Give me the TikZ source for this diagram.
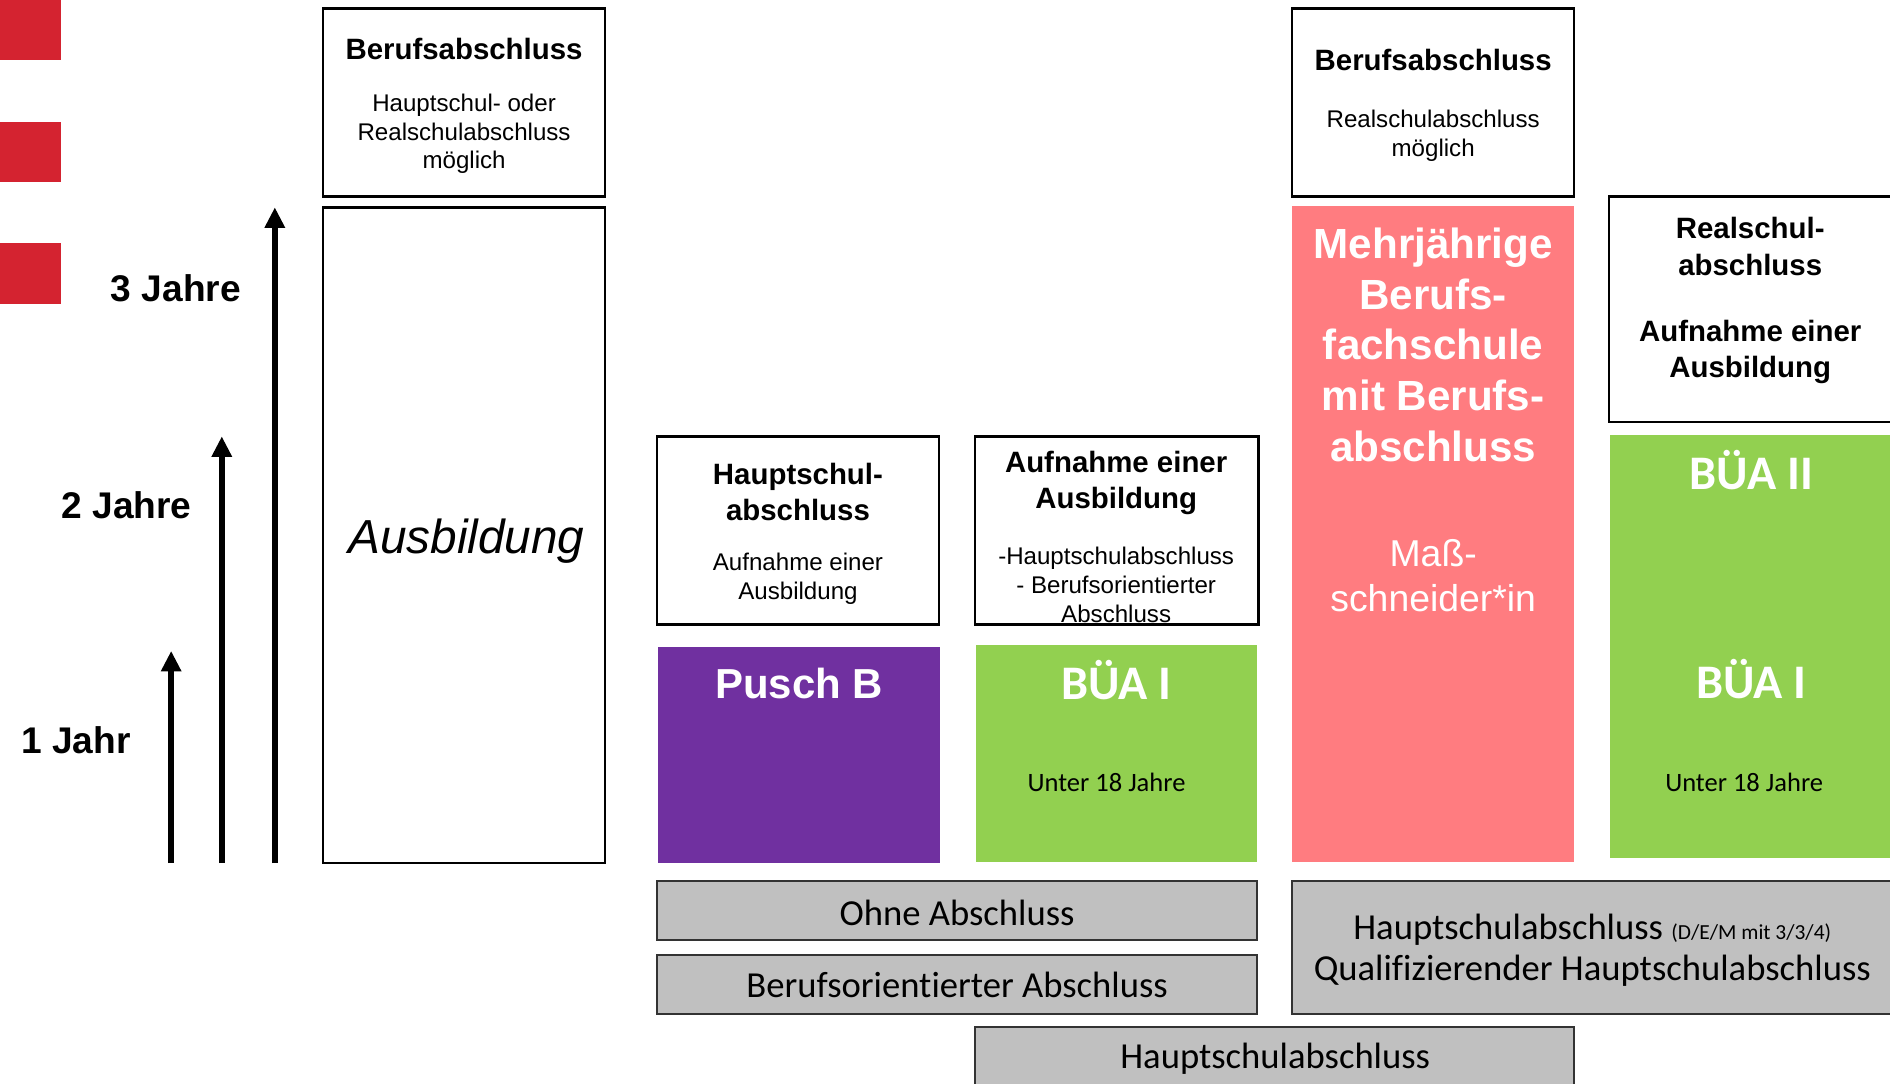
\documentclass[tikz,border=0pt]{standalone}
\usepackage{fontspec}
\setmainfont{Liberation Sans}
\newfontfamily\calib[Ligatures=NoCommon]{Carlito}
\usetikzlibrary{math,arrows.meta}
\definecolor{lila}{HTML}{7030A0}
\definecolor{gruen}{HTML}{92D050}
\definecolor{rosa}{HTML}{FF7C80}
\definecolor{rot}{HTML}{D42330}
\definecolor{grau}{HTML}{C0C0C0}

\begin{document}
\begin{tikzpicture}[x=0.5pt, y=-0.5pt,
      kasten/.style={draw=black, line width=1pt, fill=white, inner sep=0pt},
      feld/.style={inner sep=0pt},
      stufe/.style={draw=black!80, line width=0.9pt, fill=grau, inner sep=0pt},
      grautext/.style={font=\calib\fontsize{15.2}{18}\selectfont, align=center},
      kopf/.style={font=\fontsize{12.2}{15}\selectfont\bfseries, align=center},
      info/.style={font=\fontsize{10}{12}\selectfont, align=center},
      bua/.style={font=\calib\fontsize{20}{24}\selectfont\bfseries, text=white},
      alter/.style={font=\calib\fontsize{11}{13}\selectfont},
      jahr/.style={font=\fontsize{15.4}{18}\selectfont\bfseries},
      pfeil/.style={line width=2.6pt, -{Triangle[width=8pt,length=8.5pt]}}]
      \tikzmath{\yb = 716;}
      \useasboundingbox (0,0) rectangle (1568,899);
      \foreach \y in {0,101,202} \fill[rot] (0,\y) rectangle (51,\y+50);
      % Jahre
      \coordinate (p1a) at (142,\yb); \coordinate (p1b) at (142,540);
      \coordinate (p2a) at (184,\yb); \coordinate (p2b) at (184,362);
      \coordinate (p3a) at (228,\yb); \coordinate (p3b) at (228,172);
      \draw[pfeil] (p1a) -- (p1b);
      \draw[pfeil] (p2a) -- (p2b);
      \draw[pfeil] (p3a) -- (p3b);
      \node[jahr] (j1) at (63,614) {1 Jahr};
      \node[jahr] (j2) at (105,419) {2 Jahre};
      \node[jahr] (j3) at (146,239) {3 Jahre};
      % Ausbildung
      \node[kasten, minimum width=117pt, minimum height=78pt] (berufL) at (385,85) {};
      \node[kopf] (berufLk) at (385,41) {Berufsabschluss};
      \node[info] (berufLt) at (385,111) {Hauptschul- oder\\Realschulabschluss\\möglich};
      \node[kasten, minimum width=117pt, minimum height=272pt] (ausb) at (385,444) {};
      \node[font=\fontsize{19.8}{24}\selectfont\itshape] (ausbt) at (387,449) {Ausbildung};
      % Pusch B und BUEA I
      \node[kasten, minimum width=117pt, minimum height=78pt] (hsk) at (662,440) {};
      \node[kopf] (hskk) at (662,408) {Hauptschul-\\abschluss};
      \node[info] (hskt) at (662,480) {Aufnahme einer\\Ausbildung};
      \node[kasten, minimum width=117.5pt, minimum height=78pt] (aufk) at (926.5,440) {};
      \node[kopf] (aufkk) at (926,401) {Aufnahme einer\\Ausbildung};
      \node[info] (aufkt) at (926,485) {-Hauptschulabschluss\\- Berufsorientierter\\Abschluss};
      \node[feld, fill=lila, minimum width=117pt, minimum height=89.5pt] (pusch) at (663,626.5) {};
      \node[font=\fontsize{17.4}{21}\selectfont\bfseries, text=white] (puscht) at (663,567) {Pusch B};
      \node[feld, fill=gruen, minimum width=116.5pt, minimum height=90pt] (bua1) at (926.5,625) {};
      \node[bua] (bua1t) at (926,564) {BÜA I};
      \node[alter] (bua1a) at (918,649) {Unter 18 Jahre};
      % Berufsfachschule
      \node[kasten, minimum width=117pt, minimum height=78pt] (berufR) at (1189,85) {};
      \node[kopf] (berufRk) at (1189,50) {Berufsabschluss};
      \node[info] (berufRt) at (1189,113) {Realschulabschluss\\möglich};
      \node[feld, fill=rosa, minimum width=117pt, minimum height=272pt] (mehr) at (1189,443) {};
      \node[font=\fontsize{17.5}{21}\selectfont\bfseries, text=white, align=center] (mehrt) at (1189,286) {Mehrjährige\\Berufs-\\fachschule\\mit Berufs-\\abschluss};
      \node[font=\fontsize{15.5}{18.5}\selectfont, text=white, align=center] (mass) at (1189,477.5) {Maß-\\schneider*in};
      % BUEA II
      \node[kasten, minimum width=122.5pt, minimum height=93.5pt] (realk) at (1457.5,256.5) {};
      \node[kopf] (realkk) at (1452,204.5) {Realschul-\\abschluss};
      \node[kopf] (realkt) at (1452,292) {Aufnahme einer\\Ausbildung};
      \node[feld, fill=gruen, minimum width=122pt, minimum height=175.5pt] (bua2) at (1458,536.5) {};
      \node[bua] (bua2t) at (1453,390) {BÜA II};
      \node[bua] (bua2s) at (1453,563) {BÜA I};
      \node[alter] (bua2a) at (1447,649) {Unter 18 Jahre};
      % Abschluesse
      \node[stufe, minimum width=249pt, minimum height=24.5pt] (ohne) at (794,755.5) {};
      \node[grautext] (ohnet) at (794,757) {Ohne Abschluss};
      \node[stufe, minimum width=249pt, minimum height=24.5pt] (bero) at (794,816.5) {};
      \node[grautext] (berot) at (794,817) {Berufsorientierter Abschluss};
      \node[stufe, minimum width=254pt, minimum height=55pt] (hsq) at (1326,786) {};
      \node[grautext] (hsqt) at (1321,788) {Hauptschulabschluss {\fontsize{8.9}{10}\selectfont (D/E/M mit 3/3/4)}\\[-1pt]Qualifizierender Hauptschulabschluss};
      \node[stufe, minimum width=248.5pt, minimum height=29pt] (hsb) at (1057.5,881) {};
      \node[grautext] (hsbt) at (1058,878) {Hauptschulabschluss};
\end{tikzpicture}
\end{document}
